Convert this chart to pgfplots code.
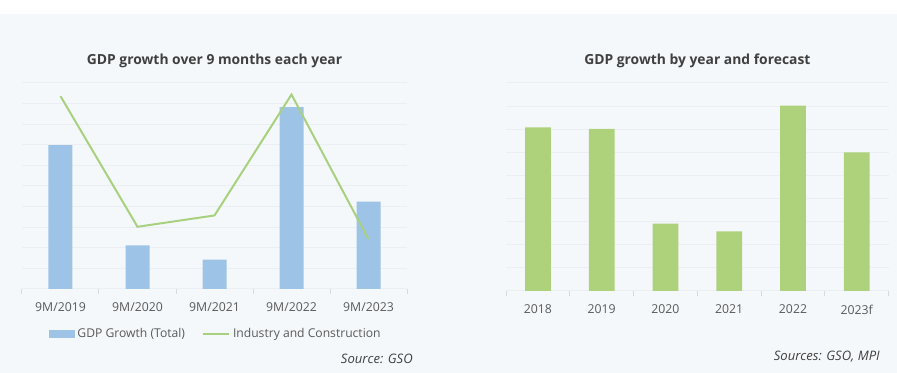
\documentclass[border=0pt]{standalone}
\usepackage{pgfplots}
\pgfplotsset{compat=1.18}
\usepackage{fontspec}
\setmainfont{Open Sans}
\definecolor{bluebar}{HTML}{9DC3E6}
\definecolor{greenbar}{HTML}{ADD27B}
\definecolor{greenline}{HTML}{A8D17F}
\definecolor{gridc}{HTML}{EBEEF2}
\definecolor{axisc}{HTML}{D9D9D9}
\definecolor{labelc}{HTML}{595959}
\definecolor{titlec}{HTML}{404040}
\definecolor{bgc}{HTML}{F5F8FB}
\pgfplotsset{
  panel/.style={
    scale only axis,
    axis line style={draw=none},
    ymin=0,
    ytick style={draw=none},
    yticklabels={},
    ymajorgrids,
    major grid style={gridc, line width=0.75pt},
    extra y ticks={0},
    extra y tick labels={},
    extra y tick style={grid style={axisc, line width=1pt}, ytick style={draw=none}},
    xtick pos=bottom,
    major x tick style={draw=none},
    minor x tick style={axisc, line width=0.75pt},
    minor tick length=3.5pt,
    tick align=outside,
    xticklabel style={text=labelc, font=\fontsize{9.2}{11}\selectfont, yshift=-2.5pt},
    title style={at={(0.5,1)}, anchor=center, yshift=10.75pt, font=\bfseries\fontsize{10.4}{12}\selectfont, text=titlec},
    clip=false,
  }
}
\begin{document}
\begin{tikzpicture}
\useasboundingbox (0,0) rectangle (672.75pt,279.75pt);
\fill[white] (0,0) rectangle (672.75pt,279.75pt);
\fill[bgc] (0,0) rectangle (672.75pt,269.25pt);
\begin{axis}[panel,
  at={(16.5pt,63pt)}, anchor=south west,
  width=288.75pt, height=154.5pt,
  xmin=-0.5, xmax=4.5, ymax=10,
  ytick={1,...,10},
  xtick={0,...,4},
  xticklabels={9M/2019,9M/2020,9M/2021,9M/2022,9M/2023},
  minor xtick={-0.5,0.5,...,4.5},
  title={GDP growth over 9 months each year},
  legend columns=2,
  legend style={at={(0.504,-0.218)}, anchor=center, draw=none, fill=none,
    font=\fontsize{9.1}{11}\selectfont, text=labelc,
    /tikz/every even column/.append style={column sep=10.5pt},
    inner sep=0pt},
]
\addplot[ybar, bar width=18pt, fill=bluebar, draw=none,
  legend image code/.code={\fill[bluebar] (0pt,-2.75pt) rectangle (19.5pt,2.75pt);}]
  coordinates {(0,6.98) (1,2.12) (2,1.42) (3,8.83) (4,4.24)};
\addlegendentry{GDP Growth (Total)}
\addplot[greenline, line width=1.5pt, mark=none,
  legend image code/.code={\draw[greenline, line width=1.5pt] (0pt,0pt) -- (20pt,0pt);}]
  coordinates {(0,9.36) (1,3.02) (2,3.57) (3,9.44) (4,2.41)};
\addlegendentry{Industry and Construction}
\end{axis}
\begin{axis}[panel,
  at={(379.5pt,61.5pt)}, anchor=south west,
  width=287pt, height=156pt,
  xmin=-0.5, xmax=5.5, ymax=9,
  ytick={1,...,9},
  xtick={0,...,5},
  xticklabels={2018,2019,2020,2021,2022,2023f},
  minor xtick={-0.5,0.5,...,5.5},
  title={GDP growth by year and forecast},
]
\addplot[ybar, bar width=19.3pt, fill=greenbar, draw=none]
  coordinates {(0,7.08) (1,7.02) (2,2.91) (3,2.58) (4,8.02) (5,6.0)};
\end{axis}
\node[anchor=east, text=titlec, font=\itshape\fontsize{9.8}{11}\selectfont, inner sep=0pt] at (309.75pt,10.5pt) {Source: GSO};
\node[anchor=east, text=titlec, font=\itshape\fontsize{9.8}{11}\selectfont, inner sep=0pt] at (660pt,12pt) {Sources: GSO, MPI};
\end{tikzpicture}
\end{document}
